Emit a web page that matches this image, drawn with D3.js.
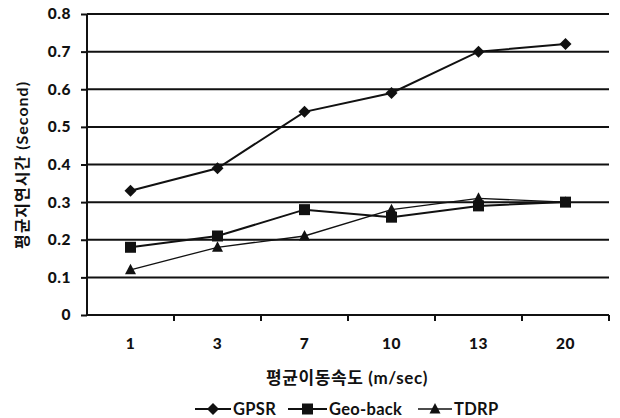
<!DOCTYPE html>
<html>
<head>
<meta charset="utf-8">
<script src="https://cdn.jsdelivr.net/npm/d3@7"></script>
<style>
  html, body { margin: 0; padding: 0; background: #fff; }
  svg { display: block; }
  text { font-family: Lato, "Noto Sans CJK KR", sans-serif; fill: #111; }
</style>
</head>
<body>
<svg id="chart" width="620" height="418"></svg>
<script>
const categories = ["1", "3", "7", "10", "13", "20"];
const gpsr    = [0.33, 0.39, 0.54, 0.59, 0.70, 0.72];
const geoBack = [0.18, 0.21, 0.28, 0.26, 0.29, 0.30];
const tdrp    = [0.12, 0.18, 0.21, 0.28, 0.31, 0.30];
const yTicks  = [0, 0.1, 0.2, 0.3, 0.4, 0.5, 0.6, 0.7, 0.8];
const seriesNames = ["GPSR", "Geo-back", "TDRP"];
const yTitle = "평균지연시간 (Second)";
const xTitle = "평균이동속도 (m/sec)";

const series = [
  { name: seriesNames[0], values: gpsr,    marker: "diamond",  width: 2 },
  { name: seriesNames[1], values: geoBack, marker: "square",   width: 2 },
  { name: seriesNames[2], values: tdrp,    marker: "triangle", width: 1.3 }
];

const ink = "#111";
const svg = d3.select("#chart");
const plotLeft = 87, plotRight = 609, plotTop = 14, plotBottom = 315;

const x = d3.scaleBand().domain(categories).range([plotLeft, plotRight]).padding(0);
const y = d3.scaleLinear().domain([0, 0.8]).range([plotBottom, plotTop]);
const cx = c => x(c) + x.bandwidth() / 2;

// gridlines
svg.append("g").selectAll("line").data(yTicks.filter(d => d > 0)).join("line")
  .attr("x1", plotLeft).attr("x2", plotRight)
  .attr("y1", d => y(d)).attr("y2", d => y(d))
  .attr("stroke", ink).attr("stroke-width", 2);

// y axis
const yAxis = d3.axisLeft(y).tickValues(yTicks).tickSize(6).tickPadding(10)
  .tickFormat(d => d === 0 ? "0" : d.toFixed(1));
const gy = svg.append("g").attr("transform", `translate(${plotLeft},0)`).call(yAxis);
gy.select(".domain").attr("stroke", ink).attr("stroke-width", 2).attr("d", `M0,${plotTop}V${plotBottom}`);
gy.selectAll(".tick line").attr("stroke", ink).attr("stroke-width", 2);
gy.selectAll(".tick text").style("font-size", "15.5px").style("font-weight", "900").attr("fill", ink)
  .attr("letter-spacing", "0.5px");

// x axis (labels centered in bands, ticks at band boundaries)
const xAxis = d3.axisBottom(x).tickSize(0).tickPadding(23);
const gx = svg.append("g").attr("transform", `translate(0,${plotBottom})`).call(xAxis);
gx.select(".domain").attr("stroke", ink).attr("stroke-width", 2).attr("d", `M${plotLeft},0H${plotRight}`);
gx.selectAll(".tick text").style("font-size", "15.5px").style("font-weight", "900").attr("fill", ink)
  .attr("letter-spacing", "0.5px");
const bounds = categories.slice(1).map(c => x(c)).concat([x(categories[categories.length - 1]) + x.bandwidth()]);
gx.append("g").selectAll("line").data(bounds).join("line")
  .attr("x1", d => d).attr("x2", d => d).attr("y1", 0).attr("y2", 6)
  .attr("stroke", ink).attr("stroke-width", 2);

// markers
function markerPath(type) {
  if (type === "diamond") return "M0,-6L6,0L0,6L-6,0Z";
  if (type === "square") return "M-5.5,-5.5H5.5V5.5H-5.5Z";
  return "M0,-6L5.5,4.5H-5.5Z";
}

const line = d3.line().x((d, i) => cx(categories[i])).y(d => y(d));
series.forEach(s => {
  svg.append("path").datum(s.values).attr("d", line)
    .attr("fill", "none").attr("stroke", ink).attr("stroke-width", s.width);
  svg.append("g").selectAll("path").data(s.values).join("path")
    .attr("transform", (d, i) => `translate(${cx(categories[i])},${y(d)})`)
    .attr("d", markerPath(s.marker)).attr("fill", ink);
});

// axis titles
svg.append("text").attr("x", 347).attr("y", 384)
  .attr("text-anchor", "middle").style("font-size", "17px").style("font-weight", "bold")
  .attr("letter-spacing", "0.6px")
  .text(xTitle);
svg.append("text").attr("transform", "translate(28,165) rotate(-90)")
  .attr("text-anchor", "middle").style("font-size", "16px").style("font-weight", "bold")
  .attr("letter-spacing", "1px")
  .text(yTitle);

// legend
const legendItems = [
  { s: series[0], x1: 195, x2: 231, tx: 233 },
  { s: series[1], x1: 288, x2: 327, tx: 329 },
  { s: series[2], x1: 418, x2: 452, tx: 454 }
];
const ly = 409;
const lg = svg.append("g");
legendItems.forEach(it => {
  lg.append("line").attr("x1", it.x1).attr("x2", it.x2).attr("y1", ly).attr("y2", ly)
    .attr("stroke", ink).attr("stroke-width", it.s.width);
  lg.append("path").attr("transform", `translate(${(it.x1 + it.x2) / 2},${ly})`)
    .attr("d", markerPath(it.s.marker)).attr("fill", ink);
  lg.append("text").attr("x", it.tx).attr("y", ly + 6).style("font-size", "16.5px").style("font-weight", "bold")
    .attr("letter-spacing", "0.3px")
    .text(it.s.name);
});
</script>
</body>
</html>
